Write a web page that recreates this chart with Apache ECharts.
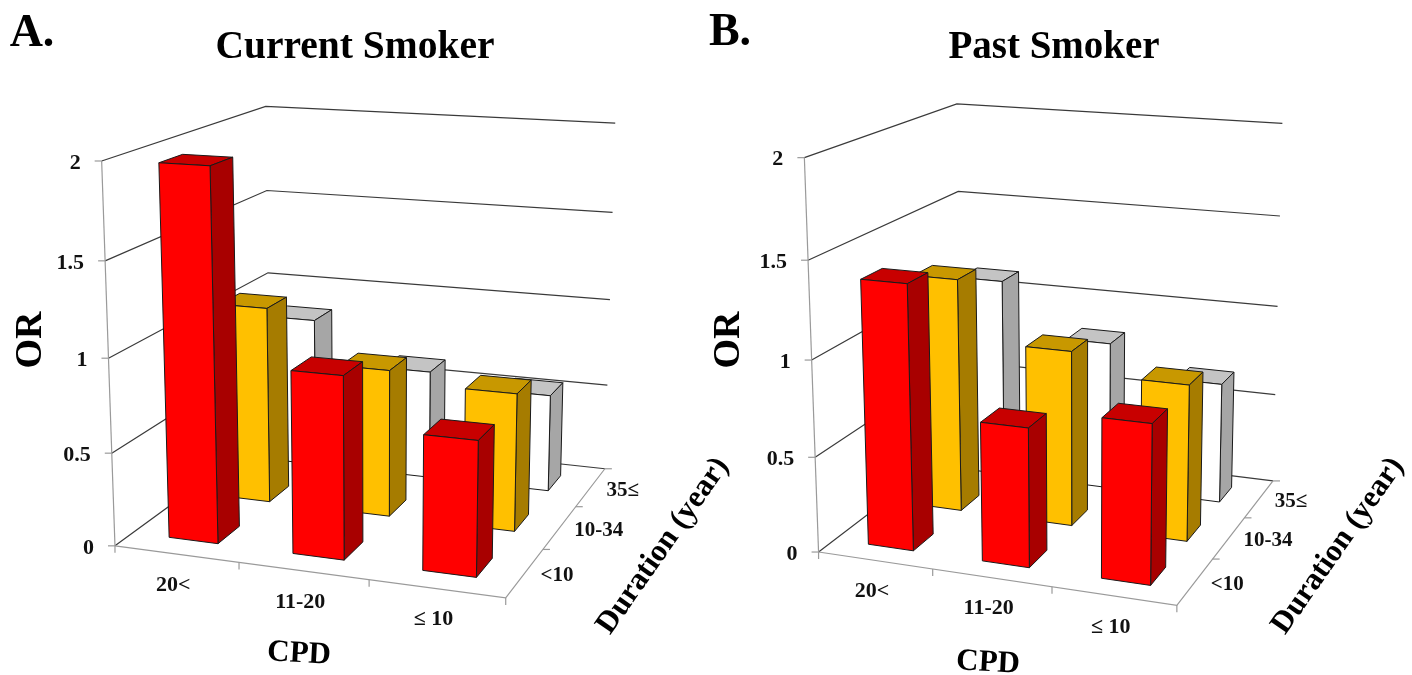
<!DOCTYPE html>
<html><head><meta charset="utf-8">
<style>html,body{margin:0;padding:0;background:#fff}#c{width:1412px;height:675px}</style>
<script src="https://cdn.jsdelivr.net/npm/echarts@6/dist/echarts.min.js"></script>
</head><body><div id="c"></div>
<script>
// ---------- data ----------
const cpdLabels = ['20<', '11-20', '≤ 10'];
const durationLabels = ['<10', '10-34', '35≤'];
const orTicks = [0, 0.5, 1, 1.5, 2];
const orTickLabels = ['0', '0.5', '1', '1.5', '2'];
const currentLt10 = [1.97, 0.965, 0.705];
const current10to34 = [1.09, 0.81, 0.75];
const current35up = [0.86, 0.62, 0.55];
const pastLt10 = [1.38, 0.72, 0.815];
const past10to34 = [1.26, 0.94, 0.83];
const past35up = [1.11, 0.82, 0.66];

// ---------- camera calibration: [u (CPD), OR/2, w (duration)] -> screen ----------
function wallCal(fl, bl, br, fr) {
  const pts = [];
  fl.forEach((p, i) => pts.push([0, i / 4, 0, p[0], p[1]]));
  bl.forEach((p, i) => pts.push([0, i / 4, 1, p[0], p[1]]));
  br.forEach((p, i) => pts.push([1, i / 4, 1, p[0], p[1]]));
  pts.push([1, 0, 0, fr[0], fr[1]]);
  return pts;
}
function fitCamera(pts) {
  const n = 11, A = [], b = [];
  pts.forEach(([X, Y, Z, x0, y0]) => {
    const x = x0 / 1000, y = y0 / 1000;
    A.push([X, Y, Z, 1, 0, 0, 0, 0, -x * X, -x * Y, -x * Z]); b.push(x);
    A.push([0, 0, 0, 0, X, Y, Z, 1, -y * X, -y * Y, -y * Z]); b.push(y);
  });
  const M = [];
  for (let i = 0; i < n; i++) {
    M.push(new Array(n + 1).fill(0));
    for (let j = 0; j < n; j++) A.forEach(r => M[i][j] += r[i] * r[j]);
    A.forEach((r, k) => M[i][n] += r[i] * b[k]);
  }
  for (let c = 0; c < n; c++) {
    let p = c;
    for (let r = c + 1; r < n; r++) if (Math.abs(M[r][c]) > Math.abs(M[p][c])) p = r;
    [M[c], M[p]] = [M[p], M[c]];
    for (let r = 0; r < n; r++) {
      if (r === c) continue;
      const f = M[r][c] / M[c][c];
      for (let k = c; k <= n; k++) M[r][k] -= f * M[c][k];
    }
  }
  const h = M.map((r, i) => r[n] / r[i]);
  return (u, v, w) => {
    const d = h[8] * u + h[9] * v + h[10] * w + 1;
    return [1000 * (h[0] * u + h[1] * v + h[2] * w + h[3]) / d,
            1000 * (h[4] * u + h[5] * v + h[6] * w + h[7]) / d];
  };
}
const camA = fitCamera(wallCal(
  [[115, 546], [112, 453], [109, 358], [105, 261], [101, 161]],
  [[270, 432], [269, 354], [268, 273], [267, 190.7], [266, 106]],
  [[605, 469], [607, 386], [610, 298], [613, 212], [615, 124]],
  [505.7, 598]));
const camB = fitCamera(wallCal(
  [[818, 554], [815, 458], [811.7, 360.7], [808, 260], [805, 157]],
  [[963, 440], [961, 360], [959, 276], [958, 192], [957, 105]],
  [[1273, 482.7], [1275, 396], [1278, 307], [1280, 216], [1282, 122]],
  [1177, 602.7]));

const FRACTION = 0.4, SLOTS = 3;
const C = { red: ['#ff0000', '#a80000', '#c80000'], yellow: ['#ffc000', '#a67c00', '#c89800'], white: ['#ffffff', '#a6a6a6', '#c4c4c4'] };
const INK = '#1a1a1a', AXIS = '#9a9a9a', WALL = '#3a3a3a', SERIF = '"Liberation Serif", serif';

function uv(params, pt) {
  const s = params.coordSys;
  return [(pt[0] - s.x) / s.width, (s.y + s.height - pt[1]) / s.height];
}
function poly(points, fill) {
  return { type: 'polygon', shape: { points }, style: { fill, stroke: INK, lineWidth: 1, lineJoin: 'round' } };
}
function line(points, stroke, lineWidth) {
  return { type: 'polyline', shape: { points }, style: { fill: 'none', stroke, lineWidth } };
}
function label(x, y, text, size, align) {
  return { type: 'text', style: { x, y, text, fill: '#111', font: 'bold ' + size + 'px ' + SERIF, align: align || 'center', verticalAlign: 'middle' } };
}
function barSeries(panel, cam, values, depthIdx, col) {
  return {
    type: 'custom', xAxisIndex: panel, yAxisIndex: panel, z: 5 + (2 - depthIdx),
    data: values.map((v, i) => [i, v]), clip: false,
    encode: { x: 0, y: 1 },
    renderItem(params, api) {
      const [u, v] = uv(params, api.coord([api.value(0), api.value(1)]));
      const hw = FRACTION / SLOTS / 2;
      const wc = (depthIdx + 0.5) / SLOTS;
      const u0 = u - hw, u1 = u + hw, w0 = wc - hw, w1 = wc + hw;
      const top = [cam(u0, v, w0), cam(u1, v, w0), cam(u1, v, w1), cam(u0, v, w1)];
      const front = [cam(u0, 0, w0), cam(u1, 0, w0), cam(u1, v, w0), cam(u0, v, w0)];
      const side = [cam(u1, 0, w0), cam(u1, 0, w1), cam(u1, v, w1), cam(u1, v, w0)];
      return { type: 'group', children: [poly(top, col[2]), poly(side, col[1]), poly(front, col[0])] };
    }
  };
}
function frameSeries(panel, cam) {
  return {
    type: 'custom', xAxisIndex: panel, yAxisIndex: panel, z: 2, clip: false,
    data: orTicks.map((t, i) => [0, t, i]), encode: { x: 0, y: 1 },
    renderItem(params, api) {
      const [, v] = uv(params, api.coord([0, api.value(1)]));
      const fl = cam(0, v, 0), bl = cam(0, v, 1), br = cam(1, v, 1);
      const kids = [
        line([fl, bl, br], WALL, 1.2),
        line([[fl[0] - 7, fl[1]], fl], AXIS, 1.2),
        label(fl[0] - 21, fl[1] + 2, orTickLabels[api.value(2)], 22, 'right')
      ];
      return { type: 'group', children: kids };
    }
  };
}
function axisSeries(panel, cam, off) {
  return {
    type: 'custom', xAxisIndex: panel, yAxisIndex: panel, z: 3, clip: false,
    data: cpdLabels.map((c, i) => [i, 0]), encode: { x: 0, y: 1 },
    renderItem(params, api) {
      const i = api.value(0);
      const [u] = uv(params, api.coord([i, 0]));
      const wc = (i + 0.5) / SLOTS;
      const kids = [];
      if (i === 0) {
        kids.push(line([cam(0, 0, 0), cam(0, 1, 0)], AXIS, 1.2));
        kids.push(line([cam(0, 0, 0), cam(1, 0, 0), cam(1, 0, 1)], AXIS, 1.2));
        [0, 1].forEach(k => {
          const p = cam(0, 0, 0), q = cam(1, 0, k);
          kids.push(line([q, [q[0] + (k ? 7 : 0), q[1] + (k ? 0 : 7)]], AXIS, 1.2));
          if (!k) kids.push(line([p, [p[0], p[1] + 7]], AXIS, 1.2));
        });
      }
      [1, 2].forEach(k => {
        if (k - 1 !== i) return;
        const p = cam(k / SLOTS, 0, 0), q = cam(1, 0, k / SLOTS);
        kids.push(line([p, [p[0], p[1] + 7]], AXIS, 1.2));
        kids.push(line([q, [q[0] + 7, q[1]]], AXIS, 1.2));
      });
      const a = cam(u, 0, 0), b = cam(1, 0, wc);
      kids.push(label(a[0] + off.cx, a[1] + off.cy, cpdLabels[i], 22));
      kids.push(label(b[0] + off.dx[i], b[1] + off.dy, durationLabels[i], 21));
      return { type: 'group', children: kids };
    }
  };
}
function txt(x, y, text, size, rotDeg) {
  return { type: 'text', x, y, rotation: (rotDeg || 0) * Math.PI / 180, z: 20,
    style: { text, fill: '#000', font: 'bold ' + size + 'px ' + SERIF, align: 'center', verticalAlign: 'middle' } };
}
const gridBox = [{ left: 100, top: 100, width: 400, height: 400, show: false }, { left: 800, top: 100, width: 400, height: 400, show: false }];
const hiddenX = i => ({ type: 'category', gridIndex: i, data: cpdLabels, show: false });
const hiddenY = i => ({ type: 'value', gridIndex: i, min: 0, max: 2, interval: 0.5, show: false });
const labelOff = { cx: -3, cy: 31, dx: [32, 39, 32], dy: 3 };

const option = {
  animation: false, backgroundColor: '#fff',
  grid: gridBox, xAxis: [hiddenX(0), hiddenX(1)], yAxis: [hiddenY(0), hiddenY(1)],
  series: [
    frameSeries(0, camA), axisSeries(0, camA, labelOff),
    barSeries(0, camA, current35up, 2, C.white), barSeries(0, camA, current10to34, 1, C.yellow), barSeries(0, camA, currentLt10, 0, C.red),
    frameSeries(1, camB), axisSeries(1, camB, labelOff),
    barSeries(1, camB, past35up, 2, C.white), barSeries(1, camB, past10to34, 1, C.yellow), barSeries(1, camB, pastLt10, 0, C.red)
  ],
  graphic: [
    txt(32, 34, 'A.', 46), txt(355, 48, 'Current Smoker', 39.5),
    txt(31, 340, 'OR', 38, 90), txt(299, 654, 'CPD', 31, -3), txt(663, 546, 'Duration (year)', 31, 55),
    txt(730, 33, 'B.', 46), txt(1054, 48, 'Past Smoker', 39),
    txt(729, 340, 'OR', 38, 90), txt(988, 663, 'CPD', 31, -3), txt(1338, 546, 'Duration (year)', 31, 55)
  ]
};
echarts.init(document.getElementById('c'), null, { renderer: 'canvas' }).setOption(option);
</script></body></html>
